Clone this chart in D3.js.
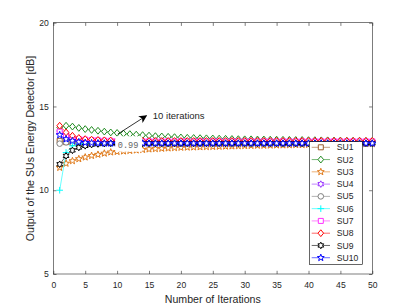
<!DOCTYPE html>
<html>
<head>
<meta charset="utf-8">
<script src="https://cdn.jsdelivr.net/npm/d3@7"></script>
<style>
  body { margin: 0; background: #fff; }
  svg text { font-family: "Liberation Sans", Arial, sans-serif; fill: #262626; }
  .tip-text { font-family: "Liberation Mono", "DejaVu Sans Mono", monospace; fill: #666; }
</style>
</head>
<body>
<div id="chart"></div>
<script>
var width = 411, height = 308;

// data
var iterations = d3.range(1, 51);

var su1 = [12.95,12.87,12.84,12.83,12.82,12.82,12.82,12.82,12.82,12.82,
  12.82,12.82,12.82,12.82,12.82,12.82,12.82,12.82,12.82,12.82,
  12.82,12.82,12.82,12.82,12.82,12.82,12.82,12.82,12.82,12.82,
  12.82,12.82,12.82,12.82,12.82,12.82,12.82,12.82,12.82,12.82,
  12.82,12.82,12.82,12.82,12.82,12.82,12.82,12.82,12.82,12.82];
var su2 = [13.75,13.85,13.8,13.72,13.65,13.6,13.55,13.5,13.45,13.42,
  13.38,13.35,13.32,13.29,13.26,13.23,13.21,13.19,13.17,13.15,
  13.13,13.12,13.11,13.1,13.09,13.08,13.07,13.06,13.05,13.04,
  13.04,13.03,13.03,13.02,13.02,13.01,13.01,13.0,13.0,12.99,
  12.99,12.98,12.98,12.97,12.97,12.96,12.96,12.96,12.95,12.95];
var su3 = [11.35,11.6,11.75,11.87,11.97,12.06,12.13,12.2,12.27,12.3,
  12.33,12.36,12.39,12.42,12.45,12.47,12.49,12.51,12.53,12.55,
  12.56,12.57,12.58,12.59,12.6,12.61,12.62,12.63,12.64,12.65,
  12.66,12.67,12.67,12.68,12.69,12.69,12.7,12.71,12.71,12.72,
  12.72,12.73,12.73,12.74,12.74,12.75,12.75,12.76,12.76,12.77];
var su4 = [13.45,13.2,13.05,12.98,12.94,12.92,12.91,12.9,12.9,12.9,
  12.9,12.9,12.9,12.9,12.9,12.9,12.9,12.9,12.9,12.9,
  12.9,12.9,12.9,12.9,12.9,12.9,12.9,12.9,12.9,12.9,
  12.9,12.9,12.9,12.9,12.9,12.9,12.9,12.9,12.9,12.9,
  12.9,12.9,12.9,12.9,12.9,12.9,12.9,12.9,12.9,12.9];
var su5 = [12.78,12.86,12.82,12.81,12.8,12.8,12.8,12.8,12.8,12.8,
  12.8,12.8,12.8,12.8,12.8,12.8,12.8,12.8,12.8,12.8,
  12.8,12.8,12.8,12.8,12.8,12.8,12.8,12.8,12.8,12.8,
  12.8,12.8,12.8,12.8,12.8,12.8,12.8,12.8,12.8,12.8,
  12.8,12.8,12.8,12.8,12.8,12.8,12.8,12.8,12.8,12.8];
var su6 = [10.0,12.25,12.65,12.75,12.78,12.8,12.8,12.8,12.8,12.8,
  12.8,12.8,12.8,12.8,12.8,12.8,12.8,12.8,12.8,12.8,
  12.8,12.8,12.8,12.8,12.8,12.8,12.8,12.8,12.8,12.8,
  12.8,12.8,12.8,12.8,12.8,12.8,12.8,12.8,12.8,12.8,
  12.8,12.8,12.8,12.8,12.8,12.8,12.8,12.8,12.8,12.8];
var su7 = [13.5,13.28,13.12,13.05,13.02,13.0,12.98,12.96,12.95,12.94,
  12.93,12.93,12.93,12.92,12.92,12.92,12.92,12.92,12.92,12.92,
  12.92,12.92,12.92,12.92,12.92,12.92,12.92,12.92,12.92,12.92,
  12.92,12.92,12.92,12.92,12.92,12.92,12.92,12.92,12.92,12.92,
  12.92,12.92,12.92,12.92,12.92,12.92,12.92,12.92,12.92,12.92];
var su8 = [13.85,13.45,13.25,13.12,13.05,13.02,13.0,12.98,12.97,12.96,
  12.95,12.95,12.95,12.94,12.94,12.94,12.94,12.94,12.94,12.94,
  12.94,12.94,12.94,12.94,12.94,12.94,12.94,12.94,12.94,12.94,
  12.94,12.94,12.94,12.94,12.94,12.94,12.94,12.94,12.94,12.94,
  12.94,12.94,12.94,12.94,12.94,12.94,12.94,12.94,12.94,12.94];
var su9 = [11.55,12.05,12.38,12.55,12.65,12.72,12.76,12.78,12.8,12.8,
  12.8,12.8,12.8,12.8,12.8,12.8,12.8,12.8,12.8,12.8,
  12.8,12.8,12.8,12.8,12.8,12.8,12.8,12.8,12.8,12.8,
  12.8,12.8,12.8,12.8,12.8,12.8,12.8,12.8,12.8,12.8,
  12.8,12.8,12.8,12.8,12.8,12.8,12.8,12.8,12.8,12.8];
var su10 = [13.3,13.05,12.95,12.88,12.84,12.82,12.81,12.8,12.8,12.8,
  12.8,12.8,12.8,12.8,12.8,12.8,12.8,12.8,12.8,12.8,
  12.8,12.8,12.8,12.8,12.8,12.8,12.8,12.8,12.8,12.8,
  12.8,12.8,12.8,12.8,12.8,12.8,12.8,12.8,12.8,12.8,
  12.8,12.8,12.8,12.8,12.8,12.8,12.8,12.8,12.8,12.8];

var names = ["SU1","SU2","SU3","SU4","SU5","SU6","SU7","SU8","SU9","SU10"];
var values = [su1, su2, su3, su4, su5, su6, su7, su8, su9, su10];
var colors = ["#9a5a2a","#1f8a1f","#e07a1a","#9933ff","#808080","#00ffff","#ff33ff","#ff0000","#000000","#0000ff"];
var shapes = ["square","diamond","pentagram","hexagram","circle","plus","square","diamond","hexagram","pentagram"];

var xTicks = [0,5,10,15,20,25,30,35,40,45,50],
  yTicks = [5,10,15,20];

var margin = {left: 53.3, right: 38.7, top: 22.7, bottom: 34};
var x = d3.scaleLinear().domain([0, 50]).range([margin.left, width - margin.right]);
var y = d3.scaleLinear().domain([5, 20]).range([height - margin.bottom, margin.top]);

var svg = d3.select("#chart").append("svg")
    .attr("width", width)
    .attr("height", height);

// marker shapes
function star(n, ro, ri){
  var pts = [];
  for (var k = 0; k < n * 2; k++){
    var a = -Math.PI / 2 + k * Math.PI / n,
      r = k % 2 ? ri : ro;
    pts.push([r * Math.cos(a), r * Math.sin(a)]);
  }
  return "M" + pts.join("L") + "Z";
}
function markerPath(shape){
  if (shape == "square") return "M-2.5,-2.5H2.5V2.5H-2.5Z";
  if (shape == "diamond") return "M0,-3.4L2.8,0L0,3.4L-2.8,0Z";
  if (shape == "pentagram") return star(5, 3.6, 1.5);
  if (shape == "hexagram") return star(6, 3.3, 1.85);
  if (shape == "circle") return "M2.8,0A2.8,2.8 0 1,1 -2.8,0A2.8,2.8 0 1,1 2.8,0Z";
  if (shape == "plus") return "M-3.3,0H3.3M0,-3.3V3.3";
}

// axes
var h = height - margin.bottom;
svg.append("g")
    .attr("class", "axis")
    .attr("transform", "translate(0," + h + ")")
    .call(d3.axisBottom(x).tickValues(xTicks).tickSizeInner(-3.2).tickSizeOuter(0).tickPadding(8));
svg.append("g")
    .attr("class", "axis")
    .attr("transform", "translate(0," + margin.top + ")")
    .call(d3.axisTop(x).tickValues(xTicks).tickSizeInner(-3.2).tickSizeOuter(0).tickFormat(""));
svg.append("g")
    .attr("class", "axis")
    .attr("transform", "translate(" + margin.left + ",0)")
    .call(d3.axisLeft(y).tickValues(yTicks).tickSizeInner(-3.2).tickSizeOuter(0).tickPadding(4.5));
svg.append("g")
    .attr("class", "axis")
    .attr("transform", "translate(" + (width - margin.right) + ",0)")
    .call(d3.axisRight(y).tickValues(yTicks).tickSizeInner(-3.2).tickSizeOuter(0).tickFormat(""));

svg.selectAll(".axis .domain").remove();
svg.selectAll(".axis line").attr("stroke", "#262626").attr("stroke-width", 0.6);
svg.selectAll(".axis text")
    .attr("font-size", "8.6px")
    .attr("font-family", "Liberation Sans, Arial, sans-serif")
    .attr("fill", "#262626");

svg.append("rect")
    .attr("x", x(0))
    .attr("y", y(20))
    .attr("width", x(50) - x(0))
    .attr("height", y(5) - y(20))
    .attr("fill", "none")
    .attr("stroke", "#262626")
    .attr("stroke-width", 0.6);

// series
var line = d3.line()
    .x(function(d, i){ return x(iterations[i]); })
    .y(function(d){ return y(d); });

values.forEach(function(vals, s){
  var g = svg.append("g").attr("class", "series");
  g.append("path")
      .attr("d", line(vals))
      .attr("fill", "none")
      .attr("stroke", colors[s])
      .attr("stroke-width", 0.6);
  g.selectAll(".marker")
      .data(vals)
    .enter().append("path")
      .attr("class", "marker")
      .attr("transform", function(d, i){ return "translate(" + x(iterations[i]) + "," + y(d) + ")"; })
      .attr("d", markerPath(shapes[s]))
      .attr("fill", shapes[s] == "plus" ? "none" : "#fff")
      .attr("stroke", colors[s])
      .attr("stroke-width", 1);
});

// datatip box
svg.append("rect")
    .attr("x", x(9.7))
    .attr("y", y(13.22))
    .attr("width", x(13.9) - x(9.7))
    .attr("height", y(12.3) - y(13.22))
    .attr("fill", "#fff");
svg.append("text")
    .attr("class", "tip-text")
    .attr("x", x(10.1))
    .attr("y", y(12.55))
    .attr("font-size", "8.6px")
    .text("0.99");

// arrow annotation
svg.append("defs").append("marker")
    .attr("id", "head")
    .attr("viewBox", "0 0 10 10")
    .attr("refX", 9)
    .attr("refY", 5)
    .attr("markerWidth", 8)
    .attr("markerHeight", 8)
    .attr("markerUnits", "userSpaceOnUse")
    .attr("orient", "auto")
  .append("path")
    .attr("d", "M0,0L10,5L0,10L2.5,5Z")
    .attr("fill", "#000");

svg.append("line")
    .attr("x1", x(10.1))
    .attr("y1", y(13.35))
    .attr("x2", x(14.6))
    .attr("y2", y(14.45))
    .attr("stroke", "#000")
    .attr("stroke-width", 0.8)
    .attr("marker-end", "url(#head)");

svg.append("text")
    .attr("x", x(15.6))
    .attr("y", y(14.45))
    .attr("dy", "0.35em")
    .attr("font-size", "9.5px")
    .attr("fill", "#000")
    .text("10 iterations");

// legend
var lg = svg.append("g").attr("transform", "translate(309.3,141.7)");
lg.append("rect")
    .attr("width", 53)
    .attr("height", 122.6)
    .attr("fill", "#fff")
    .attr("stroke", "#000")
    .attr("stroke-width", 0.6);

var row = lg.selectAll(".legend-row")
    .data(names)
  .enter().append("g")
    .attr("class", "legend-row")
    .attr("transform", function(d, i){ return "translate(0," + (5.6 + i * 12.27) + ")"; });

row.append("line")
    .attr("x1", 2.4)
    .attr("x2", 20.7)
    .attr("stroke", function(d, i){ return colors[i]; })
    .attr("stroke-width", 0.6);
row.append("path")
    .attr("transform", "translate(11.5,0)")
    .attr("d", function(d, i){ return markerPath(shapes[i]); })
    .attr("fill", function(d, i){ return shapes[i] == "plus" ? "none" : "#fff"; })
    .attr("stroke", function(d, i){ return colors[i]; })
    .attr("stroke-width", 1);
row.append("text")
    .attr("x", 27.4)
    .attr("dy", "0.36em")
    .attr("font-size", "8.6px")
    .attr("fill", "#000")
    .text(function(d){ return d; });

// axis labels
svg.append("text")
    .attr("x", (x(0) + x(50)) / 2)
    .attr("y", 302.5)
    .attr("text-anchor", "middle")
    .attr("font-size", "10.6px")
    .text("Number of Iterations");

svg.append("text")
    .attr("transform", "translate(33.5," + 148.5 + ") rotate(-90)")
    .attr("text-anchor", "middle")
    .attr("font-size", "10.6px")
    .text("Output of the SUs Energy Detector [dB]");
</script>
</body>
</html>
